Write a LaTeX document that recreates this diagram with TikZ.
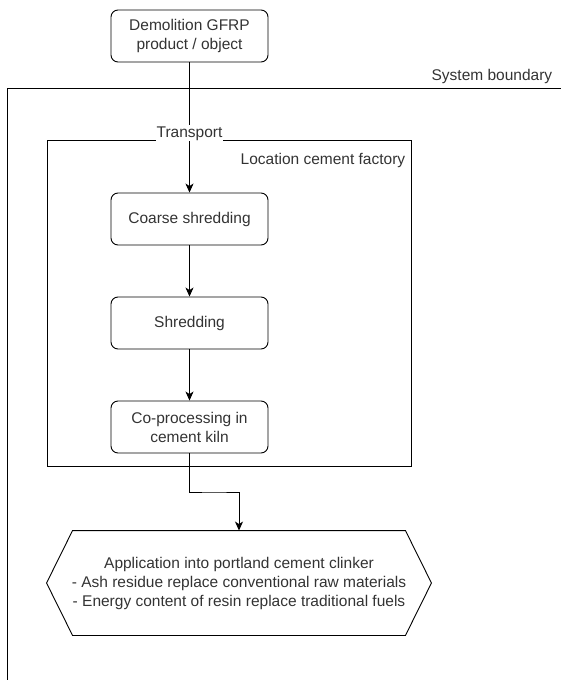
\documentclass[tikz,border=0pt]{standalone}
\usepackage{fontspec}
\setmainfont{Liberation Sans}
\usepackage{tikz}
\usetikzlibrary{positioning,calc,arrows.meta}

\begin{document}
\begin{tikzpicture}[x=1pt,y=-1pt,line width=0.9pt,
    every node/.style={text=black!80,font=\fontsize{15.5}{19}\selectfont},
    procbox/.style={draw,rounded corners=7pt,minimum width=157pt,minimum height=52pt,align=center},
    flow/.style={-{Stealth[length=9pt,width=8pt,inset=2.5pt]}}]
    \useasboundingbox (0,0) rectangle (561,680);
    % Boundaries
    \draw (561,88) -| (7,680);
    \node[anchor=east] (sysb) at (556,76) {System boundary};
    \draw (47,140) rectangle (411,466);
    \node[anchor=east] (loc) at (409,160) {Location cement factory};
    % Process steps
    \node[procbox] (demo) at (189.5,36) {Demolition GFRP\\product / object};
    \node[procbox] (coarse) at (189.5,219) {Coarse shredding};
    \node[procbox] (shred) at (189.5,323) {Shredding};
    \node[procbox] (cop) at (189.5,427) {Co-processing in\\cement kiln};
    \node[align=center,minimum width=384pt,minimum height=104pt] (app) at (239,583)
        {Application into portland cement clinker\\- Ash residue replace conventional raw materials\\- Energy content of resin replace traditional fuels};
    \draw ($(app.north west)+(26,0)$) -- ($(app.north east)+(-26,0)$) -- (app.east)
        -- ($(app.south east)+(-26,0)$) -- ($(app.south west)+(26,0)$) -- (app.west) -- cycle;
    % Flows
    \draw[flow] (demo) -- (coarse) node[pos=0.545,fill=white,inner sep=1pt] (trans) {Transport};
    \draw[flow] (coarse) -- (shred);
    \draw[flow] (shred) -- (cop);
    \draw[flow] (cop.south) |- ($(cop.south)!.5!(app.north)$) -| (app.north);
\end{tikzpicture}
\end{document}
